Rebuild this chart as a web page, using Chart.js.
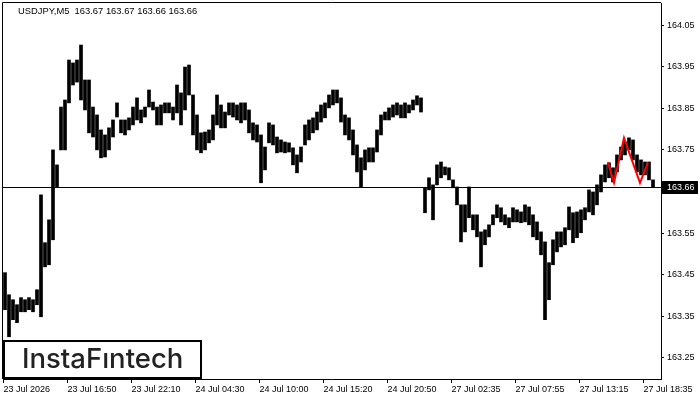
<!DOCTYPE html>
<html>
<head>
<meta charset="utf-8">
<script src="https://cdn.jsdelivr.net/npm/chart.js@4.4.1/dist/chart.umd.min.js"></script>
<style>
    html, body { margin: 0; padding: 0; background: #fff; }
</style>
</head>
<body>
<canvas id="grafico" width="700" height="400"></canvas>
<script>
const symbolTitle = "USDJPY,M5  163.67 163.67 163.66 163.66";
const lastPrice = 163.66;
const logoText = "InstaFıntech";

// each drawn bar groups 4 five-minute bars
const barsPerSample = 4;
const labelEvery = 64;

const timeLabels = [
    "23 Jul 2026", "23 Jul 16:50", "23 Jul 22:10", "24 Jul 04:30", "24 Jul 10:00", "24 Jul 15:20",
    "24 Jul 20:50", "27 Jul 02:35", "27 Jul 07:55", "27 Jul 13:15", "27 Jul 18:35",
];

const priceTicks = [164.05, 163.95, 163.85, 163.75, 163.65, 163.55, 163.45, 163.35, 163.25];

const highs = [
    163.455, 163.402, 163.390, 163.378, 163.395, 163.390, 163.395, 163.390, 163.414, 163.642,
    163.527, 163.582, 163.750, 163.714, 163.853, 163.870, 163.966, 163.959, 163.966, 164.002,
    163.918, 163.918, 163.853, 163.834, 163.798, 163.786, 163.803, 163.822, 163.863, 163.822,
    163.822, 163.827, 163.853, 163.875, 163.846, 163.853, 163.894, 163.865, 163.853, 163.858,
    163.863, 163.863, 163.853, 163.906, 163.887, 163.949, 163.954, 163.882, 163.834, 163.791,
    163.793, 163.798, 163.834, 163.882, 163.858, 163.841, 163.863, 163.863, 163.858, 163.863,
    163.863, 163.846, 163.815, 163.810, 163.786, 163.757, 163.815, 163.810, 163.781, 163.774,
    163.769, 163.767, 163.755, 163.738, 163.757, 163.810, 163.822, 163.827, 163.841, 163.858,
    163.863, 163.882, 163.894, 163.894, 163.875, 163.834, 163.827, 163.798, 163.762, 163.731,
    163.750, 163.755, 163.755, 163.798, 163.834, 163.841, 163.851, 163.858, 163.863, 163.858,
    163.863, 163.858, 163.870, 163.880, 163.875, 163.659, 163.683, 163.666, 163.714, 163.721,
    163.709, 163.707, 163.678, 163.661, 163.618, 163.618, 163.661, 163.594, 163.594, 163.553,
    163.558, 163.570, 163.594, 163.618, 163.611, 163.594, 163.587, 163.611, 163.606, 163.601,
    163.618, 163.613, 163.594, 163.577, 163.553, 163.529, 163.479, 163.534, 163.553, 163.553,
    163.563, 163.613, 163.599, 163.601, 163.606, 163.611, 163.654, 163.649, 163.666, 163.690,
    163.714, 163.719, 163.707, 163.738, 163.757, 163.769, 163.779, 163.774, 163.738, 163.726,
    163.721, 163.721, 163.678,
];

const lows = [
    163.366, 163.301, 163.342, 163.335, 163.361, 163.361, 163.366, 163.361, 163.378, 163.349,
    163.469, 163.474, 163.534, 163.661, 163.750, 163.750, 163.863, 163.906, 163.913, 163.870,
    163.846, 163.791, 163.781, 163.750, 163.731, 163.733, 163.750, 163.781, 163.829, 163.791,
    163.786, 163.798, 163.810, 163.822, 163.815, 163.829, 163.853, 163.846, 163.810, 163.810,
    163.839, 163.839, 163.822, 163.839, 163.810, 163.846, 163.882, 163.786, 163.750, 163.743,
    163.750, 163.767, 163.774, 163.810, 163.803, 163.803, 163.834, 163.829, 163.822, 163.815,
    163.822, 163.791, 163.774, 163.769, 163.671, 163.702, 163.767, 163.762, 163.743, 163.745,
    163.743, 163.745, 163.714, 163.695, 163.721, 163.762, 163.774, 163.791, 163.798, 163.817,
    163.827, 163.851, 163.858, 163.863, 163.817, 163.786, 163.774, 163.738, 163.697, 163.661,
    163.702, 163.721, 163.721, 163.745, 163.786, 163.822, 163.822, 163.829, 163.834, 163.827,
    163.827, 163.839, 163.846, 163.858, 163.841, 163.599, 163.654, 163.582, 163.666, 163.683,
    163.690, 163.678, 163.659, 163.618, 163.529, 163.553, 163.587, 163.558, 163.541, 163.469,
    163.522, 163.541, 163.570, 163.587, 163.577, 163.570, 163.563, 163.577, 163.577, 163.575,
    163.577, 163.570, 163.541, 163.534, 163.498, 163.342, 163.390, 163.474, 163.505, 163.517,
    163.522, 163.558, 163.527, 163.539, 163.551, 163.582, 163.601, 163.594, 163.618, 163.649,
    163.673, 163.683, 163.673, 163.697, 163.726, 163.738, 163.750, 163.726, 163.697, 163.690,
    163.690, 163.678, 163.661,
];

// red pattern (five-minute bar index, price)
const patternBars = [604.5, 610.5, 620.5, 636.5, 644.5];
const patternPrices = [163.720, 163.671, 163.779, 163.671, 163.720];

const axisFont = { family: "Liberation Sans", size: 9 };

const priceBars = highs.map((h, i) => ({
    x: i * barsPerSample + 1.5,
    y: [lows[i], h],
}));

const patternLine = patternBars.map((b, i) => ({ x: b, y: patternPrices[i] }));

// moldura, linha de preço, título e logo
const mt4Decor = {
    id: "mt4Decor",
    beforeDatasetsDraw(chart) {
        const { ctx, chartArea: a, scales } = chart;
        const y = Math.round(scales.y.getPixelForValue(lastPrice)) + 0.5;
        ctx.save();
        ctx.strokeStyle = "#000";
        ctx.lineWidth = 1;
        ctx.beginPath();
        ctx.moveTo(a.left, y);
        ctx.lineTo(a.right, y);
        ctx.moveTo(a.left - 0.5, a.top - 0.5);
        ctx.lineTo(a.right, a.top - 0.5);
        ctx.moveTo(a.left - 0.5, a.top - 0.5);
        ctx.lineTo(a.left - 0.5, a.bottom);
        ctx.stroke();
        ctx.restore();
    },
    afterDraw(chart) {
        const { ctx, chartArea: a, scales } = chart;
        const y = Math.round(scales.y.getPixelForValue(lastPrice)) + 0.5;
        ctx.save();
        // caixa do último preço
        ctx.fillStyle = "#000";
        ctx.fillRect(a.right + 1, y - 6.5, 36, 13);
        ctx.fillStyle = "#fff";
        ctx.font = "9px 'Liberation Sans'";
        ctx.textBaseline = "middle";
        ctx.textAlign = "left";
        ctx.fillText(lastPrice.toFixed(2), a.right + 6, y + 0.5);

        // título
        ctx.fillStyle = "#000";
        ctx.font = "9.4px 'Liberation Sans'";
        ctx.fillText(symbolTitle, a.left + 15, a.top + 8);

        // logo
        ctx.fillStyle = "#fff";
        ctx.fillRect(a.left + 1, a.bottom - 38, 197, 37);
        ctx.strokeStyle = "#000";
        ctx.lineWidth = 2;
        ctx.strokeRect(a.left + 1, a.bottom - 38, 197, 37);
        ctx.fillStyle = "#222";
        ctx.font = "500 27.5px Inter";
        ctx.textBaseline = "alphabetic";
        ctx.fillText(logoText, a.left + 19, a.bottom - 11);
        ctx.restore();
    },
};

new Chart(document.getElementById("grafico"), {
    type: "bar",
    data: {
        datasets: [
            {
                type: "bar",
                data: priceBars,
                backgroundColor: "#000",
                barThickness: 3,
                grouped: false,
                order: 2,
            },
            {
                type: "line",
                data: patternLine,
                borderColor: "#ff0000",
                borderWidth: 2,
                pointRadius: 0,
                tension: 0,
                order: 1,
            },
        ],
    },
    options: {
        responsive: false,
        animation: false,
        devicePixelRatio: 1,
        layout: { padding: { left: 3, top: 3, right: 0, bottom: 0 } },
        plugins: {
            legend: { display: false },
            tooltip: { enabled: false },
        },
        scales: {
            x: {
                type: "linear",
                offset: false,
                min: -0.5,
                max: 657.5,
                afterBuildTicks: (s) => {
                    s.ticks = timeLabels.map((_, i) => ({ value: i * labelEvery }));
                },
                ticks: {
                    callback: (v) => timeLabels[Math.round(v / labelEvery)],
                    align: "start",
                    autoSkip: false,
                    maxRotation: 0,
                    padding: 1,
                    color: "#000",
                    font: axisFont,
                },
                grid: { drawOnChartArea: false, tickLength: 4, color: "#000", offset: false },
                border: { color: "#000" },
                afterFit: (s) => {
                    s.height = 21;
                    s.paddingLeft = 0;
                    s.paddingRight = 0;
                },
            },
            y: {
                type: "linear",
                position: "right",
                min: 163.1995,
                max: 164.103,
                afterBuildTicks: (s) => {
                    s.ticks = priceTicks.map((v) => ({ value: v }));
                },
                ticks: {
                    callback: (v) => v.toFixed(2),
                    padding: 3,
                    color: "#000",
                    font: axisFont,
                },
                grid: { drawOnChartArea: false, tickLength: 3, color: "#000" },
                border: { color: "#000" },
                afterFit: (s) => {
                    s.width = 39;
                    s.paddingTop = 0;
                    s.paddingBottom = 0;
                },
            },
        },
    },
    plugins: [mt4Decor],
});
</script>
</body>
</html>
